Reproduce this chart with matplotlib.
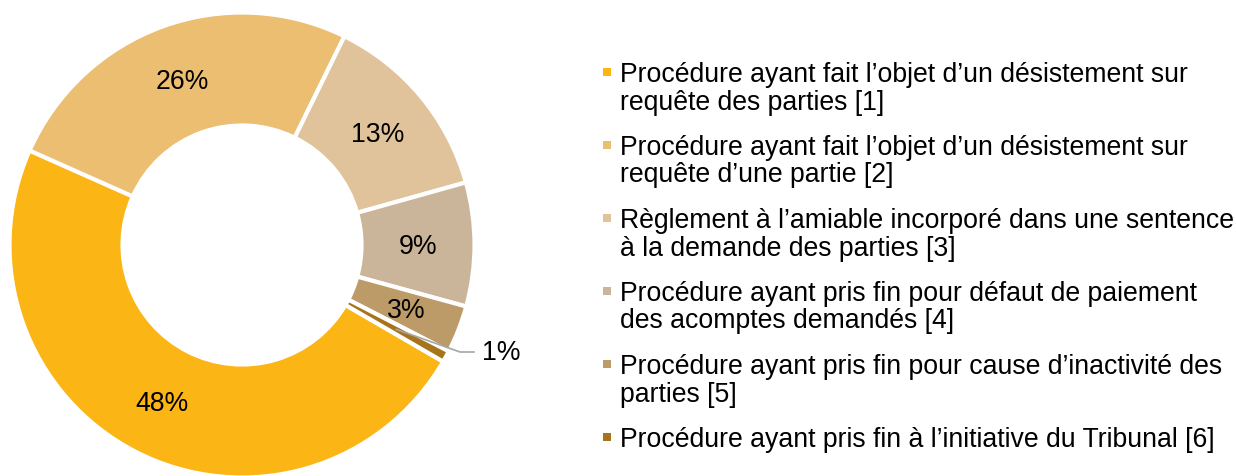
import matplotlib
matplotlib.use("Agg")
import matplotlib.pyplot as plt
from matplotlib.patches import Rectangle
import numpy as np

# ---- data ----
values = [48.3, 25.6, 13.4, 8.6, 3.3, 0.8]
pct_labels = ["48%", "26%", "13%", "9%", "3%", "1%"]
colors = ["#FBB515", "#EBBE72", "#E0C39B", "#CBB59A", "#BD9B68", "#A6741A"]
legend_labels = [
    ["Procédure ayant fait l\u2019objet d\u2019un désistement sur", "requête des parties [1]"],
    ["Procédure ayant fait l\u2019objet d\u2019un désistement sur", "requête d\u2019une partie [2]"],
    ["Règlement à l\u2019amiable incorporé dans une sentence", "à la demande des parties [3]"],
    ["Procédure ayant pris fin pour défaut de paiement", "des acomptes demandés [4]"],
    ["Procédure ayant pris fin pour cause d\u2019inactivité des", "parties [5]"],
    ["Procédure ayant pris fin à l\u2019initiative du Tribunal [6]"],
]

plt.rcParams['font.family'] = ['Liberation Sans', 'DejaVu Sans']
W, H = 1236, 476
fig = plt.figure(figsize=(W / 100, H / 100), dpi=100)

# donut geometry (pixels)
cx, cy, R = 242, 245, 232.5
ax = fig.add_axes([(cx - R) / W, (H - cy - R) / H, 2 * R / W, 2 * R / H])
wedges, _ = ax.pie(values, colors=colors, startangle=90 - 120.1, counterclock=False,
                   radius=1, wedgeprops=dict(width=0.486, edgecolor='white', linewidth=3))
ax.set_xlim(-1, 1)
ax.set_ylim(-1, 1)
ax.set_aspect('equal')
ax.axis('off')

fs = 19.2
rlab = 0.757
for i, (w, lab) in enumerate(zip(wedges, pct_labels)):
    th = np.deg2rad((w.theta1 + w.theta2) / 2)
    x, y = rlab * np.cos(th), rlab * np.sin(th)
    if i < len(wedges) - 1:
        ax.text(x, y - 0.01, lab, ha='center', va='center', fontsize=fs, color='#000000')
    else:
        ex, ey = (460 - cx) / R, -(352 - cy) / R
        hx = (474 - cx) / R
        ax.plot([x, ex, hx], [y, ey, ey], color='#A6A6A6', lw=1.2, clip_on=False)
        ax.text((482 - cx) / R, ey - 0.005, lab, ha='left', va='center', fontsize=fs, color='#000000')

# legend
base0 = 82
item_step = 73
line_step = 27.5
for k, (lines, col) in enumerate(zip(legend_labels, colors)):
    b = base0 + item_step * k
    fig.patches.append(Rectangle((603 / W, (H - (b - 6)) / H), 8 / W, 8 / H,
                                 transform=fig.transFigure, facecolor=col, edgecolor='none'))
    for j, ln in enumerate(lines):
        fig.text(620 / W, (H - (b + j * line_step)) / H, ln, ha='left', va='baseline',
                 fontsize=fs, color='#000000')

fig.savefig("out.png", dpi=100, facecolor='white')
